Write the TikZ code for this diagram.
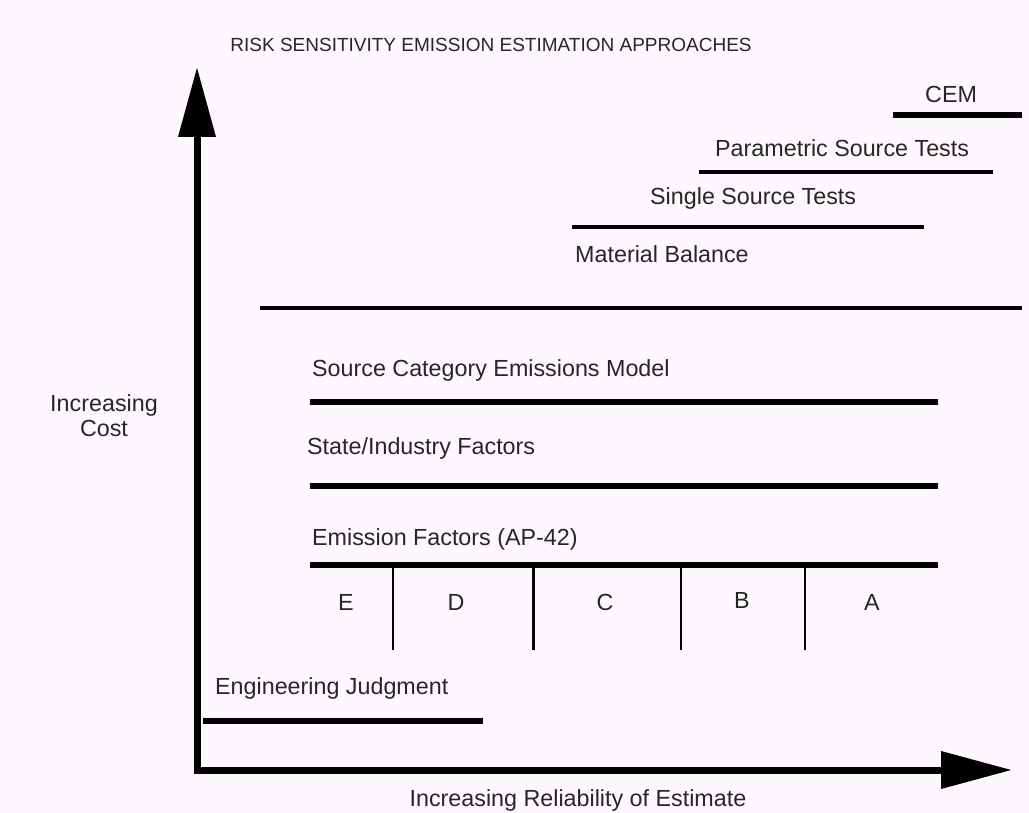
\documentclass[tikz,border=0pt]{standalone}
\usepackage{fontspec}
\setmainfont{Liberation Sans}
\usetikzlibrary{arrows.meta}

\definecolor{paper}{RGB}{253,248,253}
\tikzset{
  lbl/.style={anchor=west, inner sep=0, text=black!85, font=\fontsize{23.3}{25}\selectfont},
  grade/.style={inner sep=0, text=black!85, font=\fontsize{23.3}{25}\selectfont},
  thickbar/.style={line width=6},
  thinbar/.style={line width=4},
  axis/.style={line width=7, {Triangle[length=70,width=36]}-{Triangle[length=71,width=36]}}
}

\begin{document}
\begin{tikzpicture}[x=1pt,y=-1pt]
        \fill[paper] (0,0) rectangle (1029,813);
        \useasboundingbox (0,0) rectangle (1029,813);
        % title and axis labels
        \node[grade, font=\fontsize{19}{22}\selectfont] (title) at (491,45) {RISK SENSITIVITY EMISSION ESTIMATION APPROACHES};
        \node[grade, align=center] (cost) at (104,416) {Increasing\\Cost};
        \node[grade] (reliab) at (578,800) {Increasing Reliability of Estimate};
        % axes
        \draw[axis] (197,67) -- (197,770) -- (1012,770);
        % upper approaches
        \node[lbl] (cem) at (925,94) {CEM};
        \draw[thickbar] (893,115) -- (1022,115);
        \node[lbl] (pst) at (715,148) {Parametric Source Tests};
        \draw[thinbar] (699,172) -- (993,172);
        \node[lbl] (sst) at (650,198) {Single Source Tests};
        \draw[thinbar] (572,227) -- (924,227);
        \node[lbl] (mb) at (575,254) {Material Balance};
        \draw[thinbar] (260,308) -- (1022,308);
        % lower approaches
        \node[lbl] (scem) at (312,370) {Source Category Emissions Model};
        \draw[thickbar] (310,402) -- (938,402);
        \node[lbl] (sif) at (307,448) {State/Industry Factors};
        \draw[thickbar] (310,486) -- (938,486);
        \node[lbl] (ef) at (312,539) {Emission Factors (AP-42)};
        \draw[thickbar] (310,565) -- (938,565);
        % factor ratings
        \draw[line width=1.5] (393,565) -- (393,650);
        \draw[line width=3] (533,565) -- (533,650);
        \draw[line width=1.5] (681,565) -- (681,650);
        \draw[line width=1.5] (805,565) -- (805,650);
        \node[grade] (ge) at (346,602) {E};
        \node[grade] (gd) at (456,602) {D};
        \node[grade] (gc) at (605,602) {C};
        \node[grade] (gb) at (742,600) {B};
        \node[grade] (ga) at (872,602) {A};
        \node[lbl] (ej) at (215,688) {Engineering Judgment};
        \draw[thickbar] (203,721) -- (483,721);
\end{tikzpicture}
\end{document}
